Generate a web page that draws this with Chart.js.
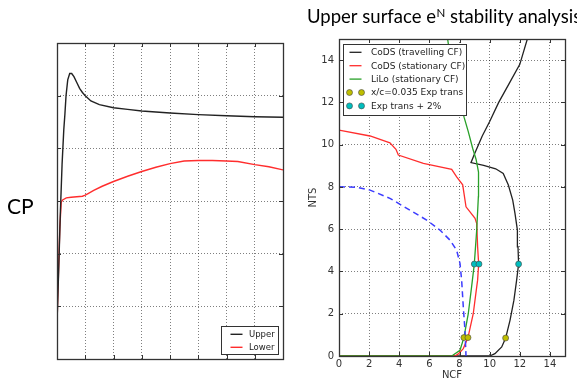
<!DOCTYPE html>
<html>
<head>
<meta charset="utf-8">
<script src="https://cdn.jsdelivr.net/npm/chart.js@4.4.0/dist/chart.umd.min.js"></script>
<style>
    html, body { margin: 0; padding: 0; background: #fff; overflow: hidden; }
    #cpChart { position: absolute; left: 0; top: 0; }
    #ntsChart { position: absolute; left: 290px; top: 0; }
</style>
</head>
<body>
<canvas id="cpChart" width="290" height="381"></canvas>
<canvas id="ntsChart" width="287" height="381"></canvas>
<script>
// ---- left panel: pressure coefficient ----
const cpLabel = "CP";
const cpGridX = [0, 1, 2, 3, 4, 5, 6, 7, 8];
const cpGridY = [0, 1, 2, 3, 4, 5, 6];
const upperX = [0, 0.06, 0.12, 0.18, 0.24, 0.28, 0.32, 0.38, 0.45, 0.52, 0.6, 0.7, 0.8, 0.9, 1.0, 1.2, 1.5, 2.0, 2.5, 3.0, 4.0, 5.0, 6.0, 7.0, 8.0];
const upperCP = [0.68, 1.7, 2.8, 3.7, 4.35, 4.65, 5.0, 5.3, 5.42, 5.42, 5.36, 5.25, 5.14, 5.06, 5.0, 4.9, 4.83, 4.77, 4.74, 4.71, 4.67, 4.64, 4.62, 4.6, 4.59];
const lowerX = [0, 0.05, 0.1, 0.15, 0.2, 0.33, 0.5, 0.7, 0.9, 1.0, 1.1, 1.3, 1.6, 2.0, 2.5, 3.0, 3.5, 4.0, 4.5, 5.0, 5.5, 6.0, 6.4, 7.0, 7.5, 8.0];
const lowerCP = [0.68, 1.6, 2.5, 2.98, 3.02, 3.06, 3.07, 3.08, 3.09, 3.11, 3.14, 3.2, 3.28, 3.37, 3.47, 3.56, 3.64, 3.71, 3.76, 3.77, 3.77, 3.76, 3.75, 3.69, 3.65, 3.59];

// ---- right panel: eN stability analysis ----
const titleParts = ["Upper surface e", "N", " stability analysis"];
const ncfTicks = [0, 2, 4, 6, 8, 10, 12, 14];
const ntsTicks = [0, 2, 4, 6, 8, 10, 12, 14];

const travNCF = [0, 10.0, 10.35, 10.8, 11.06, 11.35, 11.61, 11.79, 11.92, 11.88, 11.84, 11.68, 11.53, 11.24, 10.9, 10.4, 9.6, 8.76, 9.02, 9.5, 10.0, 10.6, 11.3, 12.0, 12.5];
const travNTS = [0, 0, 0.11, 0.43, 0.85, 1.69, 2.64, 3.59, 4.35, 5.17, 5.96, 6.75, 7.38, 8.09, 8.64, 8.86, 9.02, 9.15, 9.6, 10.4, 11.1, 12.0, 12.9, 13.8, 15.0];

const statNCF = [0, 2.06, 3.38, 3.78, 3.94, 5.6, 7.48, 7.81, 8.21, 8.43, 9.03, 9.14, 9.2, 9.27, 9.2, 9.14, 8.91, 8.56, 8.25, 7.92, 7.7, 0];
const statNTS = [10.69, 10.41, 10.09, 9.78, 9.51, 9.12, 8.83, 8.48, 8.1, 7.06, 6.51, 6.27, 5.17, 4.35, 3.59, 3.27, 2.0, 0.87, 0.35, 0.1, 0, 0];

const liloNCF = [0, 7.48, 8.03, 8.29, 8.58, 8.8, 8.98, 9.14, 9.25, 9.27, 9.25, 9.1, 8.87, 8.58, 8.3, 8.15, 7.9, 7.6, 7.35, 7.21];
const liloNTS = [0, 0, 0.27, 0.87, 2.0, 3.27, 4.35, 5.96, 7.54, 8.33, 8.7, 9.3, 9.83, 10.62, 11.3, 11.8, 12.5, 13.4, 14.3, 15.0];

const dashNCF = [0, 1.17, 2.06, 3.38, 4.71, 5.82, 6.7, 7.37, 7.81, 8.03, 8.14, 8.25, 8.36, 8.43];
const dashNTS = [8.01, 7.98, 7.85, 7.46, 6.9, 6.43, 5.96, 5.48, 5.0, 4.38, 3.59, 2.32, 1.22, 0];

const expNCF = [8.29, 8.56, 11.06];
const expNTS = [0.87, 0.87, 0.85];
const exp2NCF = [8.98, 9.29, 11.92];
const exp2NTS = [4.35, 4.35, 4.35];

const pts = (xs, ys) => xs.map((x, i) => ({ x: x, y: ys[i] }));

const gridColor = "rgba(0,0,0,0.5)";

// box round the plot + short inward ticks, like matplotlib
function drawFrame(chart) {
    const { ctx, chartArea: a, scales } = chart;
    ctx.save();
    ctx.strokeStyle = "#333";
    ctx.lineWidth = 1;
    scales.x.ticks.forEach((t) => {
        const px = Math.round(scales.x.getPixelForValue(t.value)) + 0.5;
        ctx.beginPath();
        ctx.moveTo(px, a.bottom); ctx.lineTo(px, a.bottom - 4);
        ctx.moveTo(px, a.top); ctx.lineTo(px, a.top + 4);
        ctx.stroke();
    });
    scales.y.ticks.forEach((t) => {
        const py = Math.round(scales.y.getPixelForValue(t.value)) + 0.5;
        ctx.beginPath();
        ctx.moveTo(a.left, py); ctx.lineTo(a.left + 4, py);
        ctx.moveTo(a.right, py); ctx.lineTo(a.right - 4, py);
        ctx.stroke();
    });
    ctx.lineWidth = 1.3;
    ctx.strokeRect(Math.round(a.left) + 0.5, Math.round(a.top) + 0.5, Math.round(a.right - a.left), Math.round(a.bottom - a.top));
    ctx.restore();
}

function drawBoxLegend(chart, o) {
    const { ctx, chartArea: a } = chart;
    const bx = o.right != null ? a.right - o.right - o.width : a.left + o.left;
    const by = o.bottom != null ? a.bottom - o.bottom - o.height : a.top + o.top;
    ctx.save();
    ctx.fillStyle = "#fff";
    ctx.fillRect(bx, by, o.width, o.height);
    ctx.strokeStyle = "#333";
    ctx.lineWidth = 1;
    ctx.strokeRect(Math.round(bx) + 0.5, Math.round(by) + 0.5, Math.round(o.width), Math.round(o.height));
    ctx.font = o.font;
    ctx.textBaseline = "middle";
    chart.data.datasets
        .filter((d) => d.label)
        .forEach((d, i) => {
            const y = by + o.row0 + i * o.rowGap;
            if (d.showLine === false) {
                [o.x0, o.x1].forEach((x) => {
                    ctx.beginPath();
                    ctx.arc(bx + x, y, d.pointRadius, 0, Math.PI * 2);
                    ctx.fillStyle = d.backgroundColor;
                    ctx.fill();
                    ctx.strokeStyle = d.borderColor;
                    ctx.lineWidth = d.borderWidth;
                    ctx.stroke();
                });
            } else {
                ctx.beginPath();
                ctx.moveTo(bx + o.x0, y);
                ctx.lineTo(bx + o.x1, y);
                ctx.strokeStyle = d.borderColor;
                ctx.lineWidth = d.borderWidth;
                ctx.stroke();
            }
            ctx.fillStyle = "#222";
            ctx.fillText(d.label, bx + o.textX, y + 0.5);
        });
    ctx.restore();
}

const cpDecor = {
    id: "cpDecor",
    afterDraw(chart) {
        drawFrame(chart);
        drawBoxLegend(chart, { right: 5, bottom: 5, width: 57, height: 28, row0: 8.3, rowGap: 13, x0: 9.5, x1: 21.5, textX: 28, font: "8.5px 'DejaVu Sans'" });
        const ctx = chart.ctx;
        ctx.save();
        ctx.font = "21px Lato";
        ctx.fillStyle = "#000";
        ctx.textBaseline = "alphabetic";
        ctx.fillText(cpLabel, 7, 213.5);
        ctx.restore();
    },
};

const ntsDecor = {
    id: "ntsDecor",
    afterDraw(chart) {
        drawFrame(chart);
        drawBoxLegend(chart, { left: 4, top: 5, width: 123, height: 71, row0: 8.3, rowGap: 13.4, x0: 6.5, x1: 18.5, textX: 28, font: "9px 'DejaVu Sans'" });
        const ctx = chart.ctx;
        ctx.save();
        ctx.fillStyle = "#000";
        ctx.textBaseline = "alphabetic";
        let x = 17;
        const y = 23;
        ctx.font = "18.5px Lato";
        ctx.fillText(titleParts[0], x, y);
        x += ctx.measureText(titleParts[0]).width + 0.5;
        ctx.font = "11.5px Lato";
        ctx.fillText(titleParts[1], x, y - 6);
        x += ctx.measureText(titleParts[1]).width;
        ctx.font = "18.5px Lato";
        ctx.fillText(titleParts[2], x, y);
        ctx.restore();
    },
};

function axis(min, max, tickValues, extra) {
    return Object.assign(
        {
            type: "linear",
            min: min,
            max: max,
            afterBuildTicks: (s) => {
                s.ticks = tickValues.map((v) => ({ value: v }));
            },
            grid: { color: gridColor, lineWidth: 1, drawTicks: false },
            border: { display: false, dash: [1, 2] },
        },
        extra
    );
}

new Chart(document.getElementById("cpChart"), {
    type: "scatter",
    data: {
        datasets: [
            { label: "Upper", data: pts(upperX, upperCP), showLine: true, borderColor: "#222", borderWidth: 1.4, pointRadius: 0 },
            { label: "Lower", data: pts(lowerX, lowerCP), showLine: true, borderColor: "rgb(255,45,45)", borderWidth: 1.4, pointRadius: 0 },
        ],
    },
    options: {
        responsive: false,
        animation: false,
        layout: { padding: { left: 0, top: 43, right: 7, bottom: 0 } },
        plugins: { legend: { display: false }, tooltip: { enabled: false } },
        scales: {
            x: axis(0, 8, cpGridX, {
                ticks: { display: false },
                afterFit: (s) => { s.height = 22; },
            }),
            y: axis(0, 6, cpGridY, {
                ticks: { display: false },
                afterFit: (s) => { s.width = 57; },
            }),
        },
    },
    plugins: [cpDecor],
});

const tickFont = { family: "'DejaVu Sans'", size: 10 };

new Chart(document.getElementById("ntsChart"), {
    type: "scatter",
    data: {
        datasets: [
            { label: "CoDS (travelling CF)", data: pts(travNCF, travNTS), showLine: true, borderColor: "#222", borderWidth: 1.3, pointRadius: 0, order: 6 },
            { label: "CoDS (stationary CF)", data: pts(statNCF, statNTS), showLine: true, borderColor: "rgb(255,45,45)", borderWidth: 1.3, pointRadius: 0, order: 5 },
            { label: "LiLo (stationary CF)", data: pts(liloNCF, liloNTS), showLine: true, borderColor: "rgb(40,160,40)", borderWidth: 1.3, pointRadius: 0, order: 4 },
            { label: "", data: pts(dashNCF, dashNTS), showLine: true, borderColor: "rgb(60,60,255)", borderWidth: 1.5, borderDash: [6, 4], pointRadius: 0, order: 3 },
            { label: "x/c=0.035 Exp trans", data: pts(expNCF, expNTS), showLine: false, backgroundColor: "rgb(190,190,0)", borderColor: "#444", borderWidth: 0.6, pointRadius: 3, order: 2 },
            { label: "Exp trans + 2%", data: pts(exp2NCF, exp2NTS), showLine: false, backgroundColor: "rgb(0,190,190)", borderColor: "#444", borderWidth: 0.6, pointRadius: 3, order: 1 },
        ],
    },
    options: {
        responsive: false,
        animation: false,
        layout: { padding: { left: 0, top: 39, right: 12, bottom: 0 } },
        plugins: { legend: { display: false }, tooltip: { enabled: false } },
        scales: {
            x: axis(0, 15, ncfTicks, {
                ticks: { font: tickFont, color: "#333", padding: 2, maxRotation: 0, autoSkip: false },
                title: { display: true, text: "NCF", font: tickFont, color: "#333", padding: { top: 0, bottom: 0 } },
                afterFit: (s) => { s.height = 25; },
            }),
            y: axis(0, 15, ntsTicks, {
                ticks: { font: tickFont, color: "#333", padding: 5, autoSkip: false },
                title: { display: true, text: "NTS", font: tickFont, color: "#333", padding: { top: 17, bottom: 0 } },
                afterFit: (s) => { s.width = 49; },
            }),
        },
    },
    plugins: [ntsDecor],
});
</script>
</body>
</html>
